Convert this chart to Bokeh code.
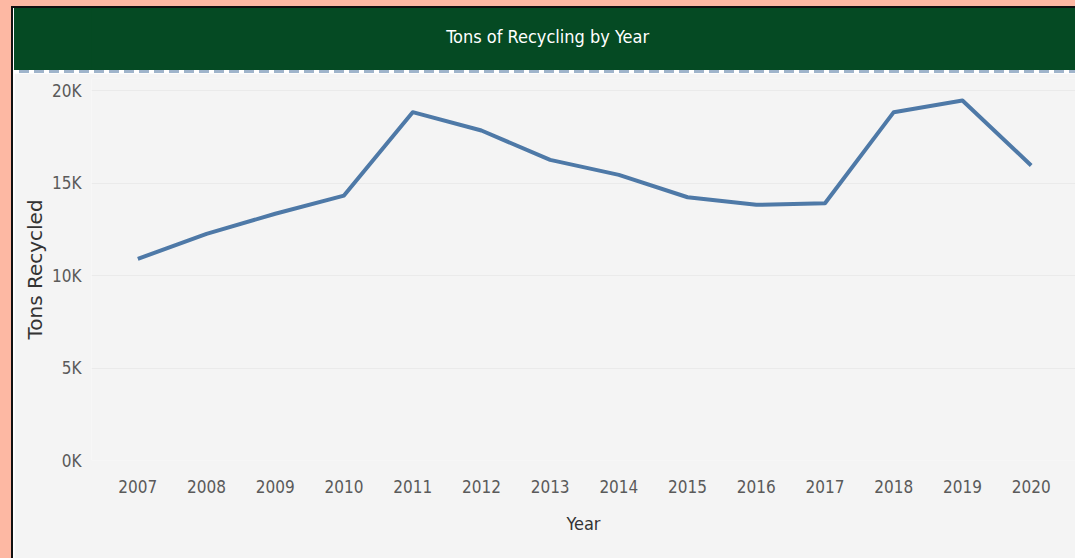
from bokeh.plotting import figure
from bokeh.models import FixedTicker, Label, Div, Range1d
from bokeh.layouts import row, column
from bokeh.embed import file_html
from bokeh.resources import INLINE

# ---- data ----
years = [2007, 2008, 2009, 2010, 2011, 2012, 2013, 2014, 2015, 2016, 2017, 2018, 2019, 2020]
tons = [10900, 12250, 13340, 14320, 18830, 17840, 16250, 15440, 14230, 13820, 13910, 18830, 19460, 15950]
y_ticks = [0, 5000, 10000, 15000, 20000]
y_tick_labels = ["0K", "5K", "10K", "15K", "20K"]
title_text = "Tons of Recycling by Year"
x_title = "Year"
y_title = "Tons Recycled"

NARROW = "'Liberation Sans Narrow', 'Arial Narrow', 'DejaVu Sans Condensed', sans-serif"
GREEN = "#054A23"
BG = "#F4F4F4"
SALMON = "#FDB8A3"
W = 1061

x_rng = Range1d(2006.326, 2020.645)

# ---- header band ----
header = figure(width=W, height=62, x_range=x_rng, y_range=(0, 62),
                output_backend="svg", toolbar_location=None,
                x_axis_location=None, y_axis_location=None,
                background_fill_color=GREEN, border_fill_color=None,
                outline_line_color=None, min_border=0,
                styles={"background-color": GREEN})
header.grid.visible = False
header.add_layout(Label(x=2012.964, y=34, text=title_text, text_align="center",
                        text_baseline="middle", text_color="white",
                        text_font=NARROW, text_font_size="18px"))

# ---- main plot ----
p = figure(width=W, height=485,
           x_range=x_rng, y_range=Range1d(0, 20650),
           output_backend="svg", toolbar_location=None,
           background_fill_color=BG, border_fill_color=BG, outline_line_color=None,
           min_border_left=77, min_border_right=0, min_border_top=5, min_border_bottom=98)

p.line(years, tons, line_color="#4E79A7", line_width=4, line_join="round")

p.xgrid.visible = False
p.ygrid.grid_line_color = "#EAEAEA"
p.ygrid.grid_line_width = 1

p.xaxis.ticker = FixedTicker(ticks=years)
p.yaxis.ticker = FixedTicker(ticks=y_ticks)
p.yaxis.major_label_overrides = dict(zip(y_ticks, y_tick_labels))

for ax in (p.xaxis[0], p.yaxis[0]):
    ax.axis_line_color = None
    ax.major_tick_line_color = None
    ax.minor_tick_line_color = None
    ax.major_tick_out = 0
    ax.major_tick_in = 0
    ax.minor_tick_out = 0
    ax.major_label_text_font = NARROW
    ax.major_label_text_font_size = "17px"
    ax.major_label_text_color = "#5A5A5A"

p.xaxis.major_label_standoff = 19
p.yaxis.major_label_standoff = 10

p.xaxis.axis_label = x_title
p.xaxis.axis_label_text_font = NARROW
p.xaxis.axis_label_text_font_size = "18px"
p.xaxis.axis_label_text_font_style = "normal"
p.xaxis.axis_label_text_color = "#333333"
p.xaxis.axis_label_standoff = 17

p.yaxis.axis_label = y_title
p.yaxis.axis_label_text_font = "DejaVu Sans"
p.yaxis.axis_label_text_font_size = "20px"
p.yaxis.axis_label_text_font_style = "normal"
p.yaxis.axis_label_text_color = "#333333"
p.yaxis.axis_label_standoff = 2

# ---- frame decoration ----
def strip(w, h, color):
    return Div(text="", width=w, height=h, margin=(0, 0, 0, 0),
               styles={"background-color": color})

dash = Div(text="", width=W, height=3, margin=(0, 0, 0, 0),
           styles={"background": "repeating-linear-gradient(90deg, #FFFFFF 0px, #FFFFFF 5px, #9FB4CB 5px, #9FB4CB 15px)"})

body = row(strip(2, 550, "#111111"), strip(1, 550, "#FFFFFF"),
           column(header, dash, p, spacing=0), spacing=0)
right = column(strip(1064, 6, SALMON), strip(1064, 2, "#111111"), body, spacing=0)
layout = row(strip(11, 558, SALMON), right, spacing=0)

open("out.html", "w").write(file_html(layout, INLINE))
